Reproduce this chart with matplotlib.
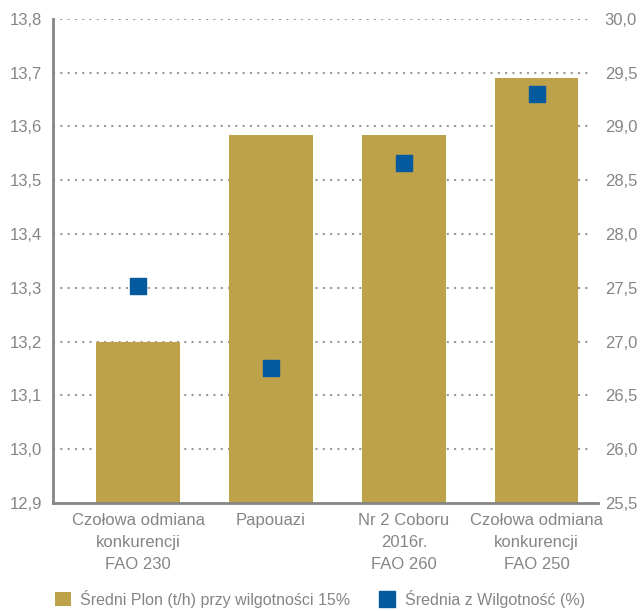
import numpy as np
import matplotlib.pyplot as plt

# data
categories = ["Czołowa odmiana\nkonkurencji\nFAO 230", "Papouazi",
              "Nr 2 Coboru\n2016r.\nFAO 260", "Czołowa odmiana\nkonkurencji\nFAO 250"]
plon = [13.20, 13.585, 13.585, 13.69]
wilg = [27.52, 26.75, 28.66, 29.30]
left_ticks = [12.9, 13.0, 13.1, 13.2, 13.3, 13.4, 13.5, 13.6, 13.7, 13.8]
right_ticks = [25.5, 26.0, 26.5, 27.0, 27.5, 28.0, 28.5, 29.0, 29.5, 30.0]

gold = '#BDA24A'
blue = '#045A9C'
grey = '#858585'

plt.rcParams['font.family'] = ['Liberation Sans', 'DejaVu Sans']

fig = plt.figure(figsize=(6.4, 6.11), dpi=100)
ax = fig.add_axes([0.083, 0.177, 0.851, 0.792])
ax2 = ax.twinx()

x = np.arange(len(categories))
ax.bar(x, plon, width=0.63, color=gold, zorder=2, label='Średni Plon (t/h) przy wilgotności 15%')
ax2.scatter(x, wilg, marker='s', s=125, color=blue, zorder=3, label='Średnia z Wilgotność (%)')

ax.set_ylim(12.9, 13.8)
ax2.set_ylim(25.5, 30.0)
ax.set_xlim(-0.64, 3.46)
ax.set_yticks(left_ticks)
ax.set_yticklabels([f"{v:.1f}".replace('.', ',') for v in left_ticks])
ax2.set_yticks(right_ticks)
ax2.set_yticklabels([f"{v:.1f}".replace('.', ',') for v in right_ticks])
ax.set_xticks(x)
ax.set_xticklabels(categories, linespacing=1.6)

for t in left_ticks[1:]:
    ax.axhline(t, xmax=0.985, color='#999999', linestyle=(0, (1, 2.5)), linewidth=1.5, zorder=1)

for a in (ax, ax2):
    for s in ['top', 'right', 'left', 'bottom']:
        a.spines[s].set_visible(False)
    a.tick_params(length=0, colors=grey, labelsize=12)
ax.spines['left'].set_visible(True)
ax.spines['bottom'].set_visible(True)
ax.spines['left'].set_color(grey)
ax.spines['bottom'].set_color(grey)
ax.spines['left'].set_linewidth(2)
ax.spines['bottom'].set_linewidth(2)
ax.tick_params(axis='y', pad=8)
ax.tick_params(axis='x', pad=7)
ax2.tick_params(axis='y', pad=5)
ax2.set_zorder(ax.get_zorder() + 1)

h1, l1 = ax.get_legend_handles_labels()
h2, l2 = ax2.get_legend_handles_labels()
fig.legend(h1 + h2, l1 + l2, loc='lower center', bbox_to_anchor=(0.5, -0.018), ncol=2,
           frameon=False, fontsize=11.5, labelcolor=grey, handlelength=1.0, handleheight=1.0,
           columnspacing=1.8, handletextpad=0.6)

fig.savefig('out.png', dpi=100)
